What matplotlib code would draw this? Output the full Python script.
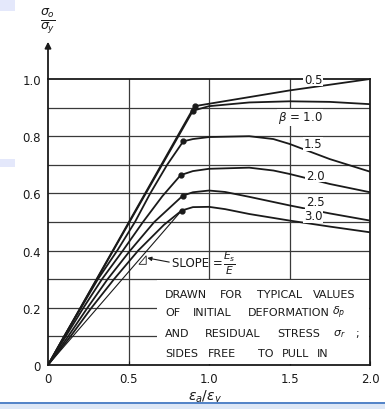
import matplotlib
matplotlib.use("Agg")
import matplotlib.pyplot as plt
from matplotlib.patches import Rectangle, Polygon

plt.rcParams['font.family'] = ['Liberation Sans Narrow', 'DejaVu Sans']
plt.rcParams['mathtext.fontset'] = 'dejavusans'

# curve data: (strain ratio, stress ratio)
b05_x = [0, 0.91, 1.5, 2.0]
b05_y = [0, 0.905, 0.96, 1.0]

b10_x = [0, 0.90, 1.0, 1.25, 1.5, 1.75, 2.0]
b10_y = [0, 0.889, 0.905, 0.918, 0.922, 0.92, 0.912]

b15_x = [0, 0.10, 0.205, 0.31, 0.43, 0.54, 0.635, 0.74, 0.84, 0.9, 1.0, 1.25, 1.4, 1.5, 1.75, 2.0]
b15_y = [0, 0.10, 0.20, 0.30, 0.40, 0.50, 0.60, 0.70, 0.782, 0.79, 0.797, 0.80, 0.79, 0.773, 0.72, 0.676]

b20_x = [0, 0.11, 0.22, 0.335, 0.465, 0.59, 0.71, 0.824, 0.9, 1.0, 1.25, 1.4, 1.5, 1.75, 2.0]
b20_y = [0, 0.10, 0.20, 0.30, 0.40, 0.50, 0.59, 0.664, 0.678, 0.686, 0.69, 0.68, 0.668, 0.633, 0.604]

b25_x = [0, 0.125, 0.245, 0.37, 0.51, 0.66, 0.837, 0.9, 1.0, 1.1, 1.25, 1.5, 1.75, 2.0]
b25_y = [0, 0.10, 0.20, 0.30, 0.40, 0.50, 0.592, 0.604, 0.61, 0.605, 0.588, 0.558, 0.53, 0.505]

b30_x = [0, 0.14, 0.27, 0.41, 0.56, 0.72, 0.83, 0.9, 1.0, 1.1, 1.25, 1.5, 1.75, 2.0]
b30_y = [0, 0.10, 0.20, 0.30, 0.40, 0.49, 0.54, 0.552, 0.553, 0.545, 0.528, 0.505, 0.484, 0.464]

slope_x = [0, 0.83]
slope_y = [0, 0.54]

# peak points (dots)
peak_x = [0.91, 0.90, 0.84, 0.824, 0.837, 0.83]
peak_y = [0.905, 0.889, 0.782, 0.664, 0.592, 0.54]

curve_labels = ['0.5', r'$\beta$ = 1.0', '1.5', '2.0', '2.5', '3.0']
label_x = [1.646, 1.565, 1.646, 1.66, 1.66, 1.646]
label_y = [1.0, 0.867, 0.773, 0.664, 0.57, 0.521]

x_ticks = [0, 0.5, 1.0, 1.5, 2.0]
x_ticklabels = ['0', '0.5', '1.0', '1.5', '2.0']
y_ticks = [0, 0.2, 0.4, 0.6, 0.8, 1.0]
y_ticklabels = ['0', '0.2', '0.4', '0.6', '0.8', '1.0']

ink = '#1a1a1a'

fig = plt.figure(figsize=(3.85, 4.10), dpi=100)
ax = fig.add_axes([48/385, 44/410, 322/385, 286/410])
ax.set_xlim(0, 2.0)
ax.set_ylim(0, 1.0)

# grid
for gy in [0.1, 0.2, 0.3, 0.4, 0.5, 0.6, 0.7, 0.8, 0.9]:
    ax.axhline(gy, color='#3a3a3a', lw=0.9, zorder=1)
for gx in [0.5, 1.0, 1.5]:
    ax.axvline(gx, color='#3a3a3a', lw=0.9, zorder=1)

# white box for the note, hides grid below 0.3
ax.add_patch(Rectangle((0.68, 0.004), 1.315, 0.293, facecolor='white',
                       edgecolor='none', zorder=2))

for xs, ys in [(b05_x, b05_y), (b10_x, b10_y), (b15_x, b15_y),
               (b20_x, b20_y), (b25_x, b25_y), (b30_x, b30_y)]:
    ax.plot(xs, ys, color=ink, lw=1.3, zorder=3, solid_joinstyle='round')
ax.plot(slope_x, slope_y, color=ink, lw=0.8, zorder=3)
ax.plot(peak_x, peak_y, 'o', color=ink, ms=3.5, zorder=4)

for lab, lx, ly in zip(curve_labels, label_x, label_y):
    ax.text(lx, ly, lab, fontsize=8.5, ha='center', va='center', color=ink,
            zorder=7, bbox=dict(facecolor='white', edgecolor='none', pad=0.3))

# slope annotation
ax.add_patch(Polygon([[0.565, 0.352], [0.61, 0.352], [0.61, 0.382]], closed=True,
                     facecolor='none', edgecolor=ink, lw=0.6, zorder=4))
ax.annotate('', xy=(0.60, 0.376), xytext=(0.77, 0.358),
            arrowprops=dict(arrowstyle='-|>', color=ink, lw=0.8,
                            mutation_scale=6), zorder=4)
ax.text(0.77, 0.358, 'SLOPE =', fontsize=8.5, ha='left',
        va='center', color=ink, zorder=5)
ax.text(1.13, 0.36, r'$\frac{E_s}{E}$', fontsize=11, ha='center',
        va='center', color=ink, zorder=5)

# note text, word by word as in the scan
note = [
    (0.248, [(0.727, 'DRAWN'), (1.068, 'FOR'), (1.298, 'TYPICAL'), (1.646, 'VALUES')]),
    (0.185, [(0.727, 'OF'), (0.90, 'INITIAL'), (1.242, 'DEFORMATION'), (1.764, r'$\delta_p$')]),
    (0.112, [(0.727, 'AND'), (0.975, 'RESIDUAL'), (1.422, 'STRESS'), (1.770, r'$\sigma_r$'), (1.907, ';')]),
    (0.042, [(0.727, 'SIDES'), (0.994, 'FREE'), (1.304, 'TO'), (1.453, 'PULL'), (1.671, 'IN')]),
]
for ny, words in note:
    for nx, w in words:
        ax.text(nx, ny, w, fontsize=8, ha='left', va='center', color=ink, zorder=5)

# axes frame
for s in ax.spines.values():
    s.set_color(ink)
    s.set_linewidth(1.3)
    s.set_zorder(6)

# y axis arrow
ax.annotate('', xy=(0, 1.14), xytext=(0, 0.99), xycoords='data',
            arrowprops=dict(arrowstyle='-|>', color=ink, lw=1.3, mutation_scale=9),
            annotation_clip=False)

ax.set_xticks(x_ticks)
ax.set_xticklabels(x_ticklabels)
ax.set_yticks(y_ticks)
ax.set_yticklabels(y_ticklabels)
ax.tick_params(axis='x', direction='in', length=3, width=0.8, pad=5,
               labelsize=8.5, colors=ink)
ax.tick_params(axis='y', length=0, pad=5, labelsize=8.5, colors=ink)

ax.text(0, 1.205, r'$\frac{\sigma_o}{\sigma_y}$', fontsize=13, ha='center',
        va='center', color=ink, clip_on=False)
ax.text(0.975, -0.11, r'$\epsilon_a / \epsilon_y$', fontsize=10, ha='center',
        va='center', color=ink, clip_on=False)

# slide decoration around the scan
fig.patches.append(Rectangle((0, 0), 1, 6/410, transform=fig.transFigure,
                             facecolor='#dde7f6', edgecolor='none', zorder=10))
fig.patches.append(Rectangle((0, 5/410), 1, 2/410, transform=fig.transFigure,
                             facecolor='#5585c8', edgecolor='none', zorder=11))
fig.patches.append(Rectangle((0, 398/410), 15/385, 12/410, transform=fig.transFigure,
                             facecolor='#e4e8fb', edgecolor='none', zorder=10))
fig.patches.append(Rectangle((0, 242/410), 15/385, 8/410, transform=fig.transFigure,
                             facecolor='#e4e8fb', edgecolor='none', zorder=10))

fig.savefig('out.png', dpi=100)
